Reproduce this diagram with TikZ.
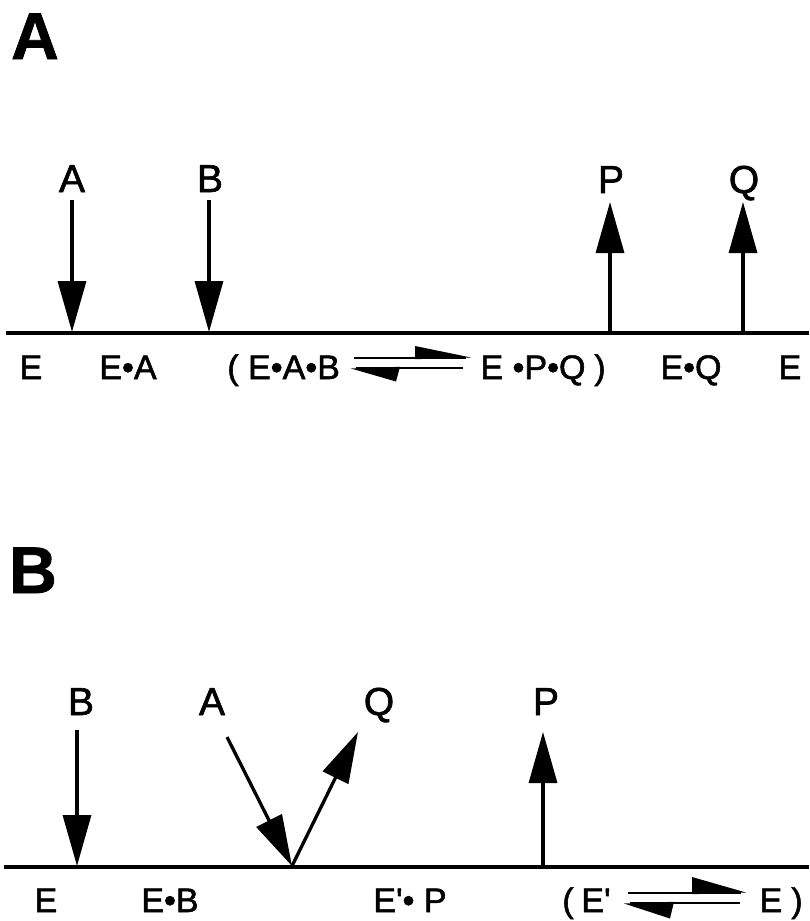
\documentclass[tikz,border=0pt]{standalone}
\usepackage{fontspec}
\setmainfont{Liberation Sans}
\newfontfamily\medsans[FakeBold=1.6]{Liberation Sans}
\newfontfamily\heavysans[FakeBold=1.2]{Liberation Sans Bold}
\usetikzlibrary{arrows.meta}

\tikzset{
  axis/.style={line width=3.8pt},
  flux/.style={line width=3.3pt,-{Triangle[length=51pt,width=28pt]}},
  species/.style={font=\medsans\fontsize{39}{42}\selectfont,anchor=base,inner sep=0pt},
  state/.style={font=\medsans\fontsize{34}{38}\selectfont,anchor=base,inner sep=0pt},
  panel/.style={font=\heavysans\fontsize{66}{70}\selectfont,anchor=base,inner sep=0pt},
  rail/.style={line width=2.4pt},
  barb/.style={fill=black,draw=none}
}
\newcommand{\prm}{\char"27\relax}

\begin{document}
\begin{tikzpicture}[x=1pt,y=-1pt]
\useasboundingbox (0,0) rectangle (809,921);

% ---------- Panel A: ordered sequential mechanism ----------
\node[panel] (pA) at (35,59) {A};

\coordinate (lineAl) at (6,333);
\coordinate (lineAr) at (809,333);
\draw[axis] (lineAl) -- (lineAr);

\node[species] (sA1) at (72,192) {A};
\node[species] (sB1) at (210,192) {B};
\node[species] (sP1) at (611,193) {P};
\node[species] (sQ1) at (744,193) {Q};

\coordinate (a1s) at (72,200);   \coordinate (a1e) at (72,332);
\coordinate (b1s) at (209,200);  \coordinate (b1e) at (209,332);
\coordinate (p1s) at (610,332);  \coordinate (p1e) at (610,202);
\coordinate (q1s) at (743,332);  \coordinate (q1e) at (743,202);
\draw[flux] (a1s) -- (a1e);
\draw[flux] (b1s) -- (b1e);
\draw[flux] (p1s) -- (p1e);
\draw[flux] (q1s) -- (q1e);

\node[state] (eA0) at (31,379) {E};
\node[state] (eA1) at (128,379) {E•A};
\node[state] (parAl) at (233,379) {(};
\node[state] (eAB) at (294,379) {E•A•B};
\node[state] (ePQ) at (533,379) {E •P•Q};
\node[state] (parAr) at (600,379) {)};
\node[state] (eQ) at (691,379) {E•Q};
\node[state] (eA2) at (790,379) {E};

% equilibrium harpoons between the central complexes
\coordinate (hA1) at (354,358); \coordinate (hA2) at (466,358);
\coordinate (hA3) at (356,368); \coordinate (hA4) at (463,368);
\draw[rail] (hA1) -- (hA2);
\draw[rail] (hA3) -- (hA4);
\fill[barb] (415,346) -- (471,357.5) -- (415,359.2) -- cycle;
\fill[barb] (351,368.5) -- (396,381.5) -- (400,366.8) -- cycle;

% ---------- Panel B: ping-pong mechanism ----------
\node[panel] (pB) at (33,593) {B};

\coordinate (lineBl) at (4,867);
\coordinate (lineBr) at (809,867);
\draw[axis] (lineBl) -- (lineBr);

\node[species] (sB2) at (81,715) {B};
\node[species] (sA2) at (212,715) {A};
\node[species] (sQ2) at (379,715) {Q};
\node[species] (sP2) at (546,715) {P};

\coordinate (b2s) at (77,730);   \coordinate (b2e) at (77,866);
\coordinate (a2s) at (227,737);  \coordinate (mid) at (292,866);
\coordinate (q2e) at (358,732);
\coordinate (p2s) at (543,866);  \coordinate (p2e) at (543,732);
\draw[flux] (b2s) -- (b2e);
\draw[flux] (a2s) -- (mid);
\draw[flux] (mid) -- (q2e);
\draw[flux] (p2s) -- (p2e);

\node[state] (eB0) at (46,912) {E};
\node[state] (eB1) at (170,912) {E•B};
\node[state] (eBP) at (410,912) {E\prm• P};
\node[state] (parBl) at (568,912) {(};
\node[state] (eBp) at (596,912) {E\prm};
\node[state] (eB2) at (771,912) {E};
\node[state] (parBr) at (797,912) {)};

\coordinate (hB1) at (628,893); \coordinate (hB2) at (741,893);
\coordinate (hB3) at (630,903); \coordinate (hB4) at (740,903);
\draw[rail] (hB1) -- (hB2);
\draw[rail] (hB3) -- (hB4);
\fill[barb] (692,877) -- (746,892.5) -- (692,894.2) -- cycle;
\fill[barb] (624,903.5) -- (670,918.5) -- (674,901.8) -- cycle;
\end{tikzpicture}
\end{document}
